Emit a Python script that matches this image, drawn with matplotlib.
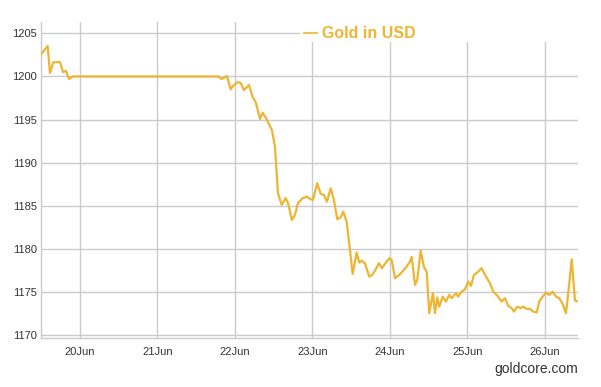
import matplotlib
matplotlib.use("Agg")
import matplotlib.pyplot as plt
from matplotlib.patches import Rectangle

plt.rcParams['font.family'] = ['Liberation Sans', 'DejaVu Sans']

# day of June (fractional) and gold price in USD
day = [19.50, 19.583, 19.613, 19.655, 19.742, 19.781, 19.819, 19.858, 19.910,
       21.781, 21.828, 21.897, 21.945, 21.974, 22.039, 22.074, 22.116, 22.181,
       22.228, 22.271, 22.323, 22.357, 22.400, 22.477, 22.516, 22.555, 22.603,
       22.654, 22.684, 22.735, 22.774, 22.813, 22.877, 22.929, 22.968, 23.006,
       23.062, 23.106, 23.148, 23.187, 23.235, 23.277, 23.320, 23.364, 23.397,
       23.441, 23.484, 23.519, 23.570, 23.604, 23.635, 23.677, 23.733, 23.777,
       23.819, 23.858, 23.897, 23.948, 23.991, 24.022, 24.065, 24.116, 24.168,
       24.215, 24.258, 24.280, 24.323, 24.352, 24.396, 24.439, 24.474, 24.507,
       24.555, 24.581, 24.610, 24.636, 24.680, 24.723, 24.765, 24.796, 24.852,
       24.881, 24.925, 24.968, 25.010, 25.045, 25.084, 25.139, 25.183, 25.226,
       25.290, 25.333, 25.385, 25.441, 25.484, 25.526, 25.570, 25.600, 25.643,
       25.686, 25.720, 25.764, 25.806, 25.849, 25.893, 25.926, 25.970, 26.013,
       26.055, 26.099, 26.142, 26.184, 26.228, 26.271, 26.314, 26.345, 26.387,
       26.43]
price = [1202.60, 1203.53, 1200.39, 1201.64, 1201.67, 1200.51, 1200.66, 1199.70, 1200.0,
         1200.0, 1199.70, 1200.05, 1198.50, 1198.89, 1199.35, 1199.23, 1198.42, 1199.00,
         1197.61, 1196.93, 1195.07, 1195.79, 1195.17, 1193.78, 1191.84, 1186.47, 1185.08,
         1185.89, 1185.31, 1183.34, 1183.92, 1185.31, 1185.89, 1186.04, 1185.78, 1185.66,
         1187.60, 1186.36, 1186.24, 1185.46, 1187.02, 1185.66, 1183.42, 1183.65, 1184.30,
         1183.14, 1179.86, 1177.08, 1179.55, 1178.39, 1178.62, 1178.32, 1176.76, 1176.99,
         1177.66, 1178.32, 1177.74, 1178.39, 1178.90, 1178.70, 1176.58, 1176.93, 1177.42,
         1177.92, 1178.50, 1179.08, 1175.80, 1176.38, 1179.78, 1177.85, 1177.34, 1172.52,
         1174.84, 1172.52, 1174.33, 1173.28, 1174.44, 1173.86, 1174.64, 1174.26, 1174.84,
         1174.44, 1175.02, 1175.30, 1176.18, 1175.68, 1176.96, 1177.34, 1177.74, 1176.96,
         1176.00, 1175.02, 1174.56, 1173.86, 1174.26, 1173.36, 1173.10, 1172.70, 1173.28,
         1173.10, 1173.28, 1173.02, 1173.02, 1172.70, 1172.59, 1173.86, 1174.44, 1174.91,
         1174.64, 1175.02, 1174.44, 1174.26, 1173.60, 1172.52, 1176.00, 1178.78, 1173.98,
         1173.86]

tick_days = [20, 21, 22, 23, 24, 25, 26]
tick_labels = ['20Jun', '21Jun', '22Jun', '23Jun', '24Jun', '25Jun', '26Jun']
y_ticks = [1170, 1175, 1180, 1185, 1190, 1195, 1200, 1205]

gold = '#EDB531'
grid_c = '#CBCBCB'
text_c = '#333333'

fig = plt.figure(figsize=(6.01, 3.87), dpi=100)
ax = fig.add_axes([0.0682, 0.1258, 0.894, 0.818])

ax.plot(day, price, color=gold, lw=1.6, zorder=3, solid_joinstyle='round')

ax.set_xlim(19.497, 26.43)
ax.set_ylim(1169.6, 1206.35)
ax.set_xticks(tick_days)
ax.set_xticklabels(tick_labels)
ax.set_yticks(y_ticks)
ax.tick_params(axis='both', length=0, labelsize=8, colors=text_c)
ax.tick_params(axis='x', pad=6)
ax.tick_params(axis='y', pad=3)
ax.grid(True, color=grid_c, lw=1.0)
ax.set_axisbelow(True)
for s in ['top', 'right']:
    ax.spines[s].set_visible(False)
for s in ['left', 'bottom']:
    ax.spines[s].set_color(grid_c)
    ax.spines[s].set_linewidth(1.0)

# legend / title box
ax.add_patch(Rectangle((0.482, 0.936), 0.6, 0.1, transform=ax.transAxes,
                       facecolor='white', edgecolor='none', zorder=2, clip_on=False))
ax.plot([0.4895, 0.5137], [0.964, 0.964], color=gold, lw=1.2,
        transform=ax.transAxes, clip_on=False, zorder=4)
ax.text(0.523, 0.964, 'Gold in USD', transform=ax.transAxes, color=gold,
        fontsize=11.5, fontweight='bold', va='center', ha='left', zorder=4)

fig.text(578.3 / 601, 1 - 369 / 387, 'goldcore.com', color=text_c,
         fontsize=10, ha='right', va='center')

fig.savefig('out.png', dpi=100)
